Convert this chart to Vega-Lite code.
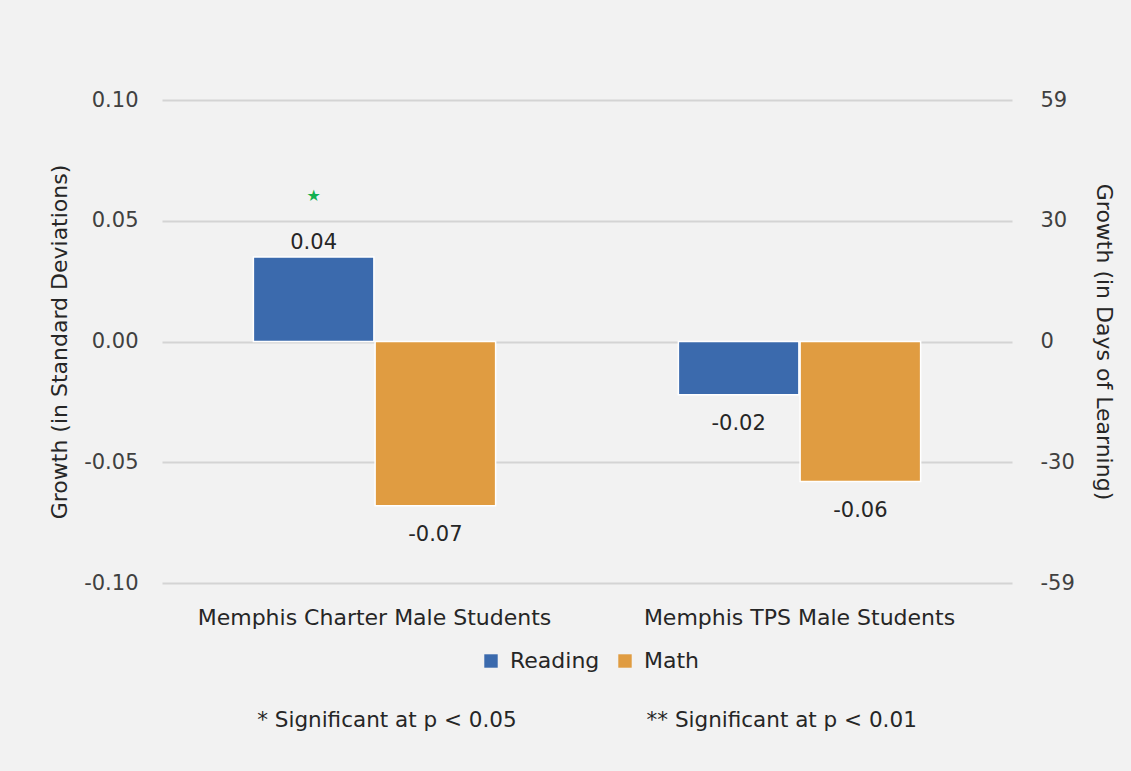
{
  "$schema": "https://vega.github.io/schema/vega-lite/v6.json",
  "width": 850,
  "height": 483,
  "autosize": {"type": "none"},
  "padding": {"left": 162, "top": 100, "right": 119, "bottom": 188},
  "background": "#f2f2f2",
  "config": {
    "view": {"stroke": null},
    "font": "DejaVu Sans",
    "axis": {"labelFont": "DejaVu Sans", "titleFont": "DejaVu Sans", "labelColor": "#404040", "titleColor": "#262626", "titleFontWeight": "normal"},
    "legend": {"labelFont": "DejaVu Sans"}
  },
  "title": {
    "text": "* Significant at p < 0.05\u00a0\u00a0\u00a0\u00a0\u00a0\u00a0\u00a0\u00a0\u00a0\u00a0\u00a0\u00a0\u00a0\u00a0\u00a0\u00a0\u00a0\u00a0\u00a0** Significant at p < 0.01",
    "orient": "bottom",
    "anchor": "middle",
    "fontSize": 21.5,
    "fontWeight": "normal",
    "color": "#262626",
    "font": "DejaVu Sans",
    "offset": 38
  },
  "data": {
    "values": [
      {"group": "Memphis Charter Male Students", "subject": "Reading", "value": 0.035, "label": "0.04", "sig": "★"},
      {"group": "Memphis Charter Male Students", "subject": "Math", "value": -0.068, "label": "-0.07", "sig": ""},
      {"group": "Memphis TPS Male Students", "subject": "Reading", "value": -0.022, "label": "-0.02", "sig": ""},
      {"group": "Memphis TPS Male Students", "subject": "Math", "value": -0.058, "label": "-0.06", "sig": ""}
    ]
  },
  "encoding": {
    "x": {
      "field": "group", "type": "nominal",
      "scale": {"paddingInner": 0.43, "paddingOuter": 0.215},
      "axis": {"orient": "bottom", "title": null, "labelAngle": 0, "labelFontSize": 22, "labelColor": "#262626", "labelPadding": 24, "labelLimit": 0, "domain": false, "ticks": false}
    },
    "xOffset": {"field": "subject", "type": "nominal", "sort": "descending", "scale": {"paddingInner": 0.01}}
  },
  "layer": [
    {
      "encoding": {
        "y": {
          "field": "value", "type": "quantitative",
          "scale": {"domain": [-0.1, 0.1], "nice": false, "zero": false},
          "axis": {
            "orient": "left",
            "title": "Growth (in Standard Deviations)", "titleFontSize": 22, "titlePadding": 12,
            "values": [-0.1, -0.05, 0, 0.05, 0.1],
            "labelExpr": "datum.value > 0.07 ? '0.10' : datum.value > 0.02 ? '0.05' : datum.value > -0.02 ? '0.00' : datum.value > -0.07 ? '-0.05' : '-0.10'",
            "labelFontSize": 21, "labelPadding": 24, "domain": false, "ticks": false,
            "grid": true, "gridColor": "#d4d4d4", "gridWidth": 2
          }
        }
      },
      "layer": [
        {
          "mark": {"type": "bar", "stroke": "white", "strokeWidth": 1.5},
          "encoding": {
            "color": {
              "field": "subject", "type": "nominal", "sort": "descending",
              "scale": {"domain": ["Reading", "Math"], "range": ["#3b6aad", "#e09c41"]},
              "legend": {
                "orient": "none", "legendX": 318, "legendY": 550, "title": null, "direction": "horizontal",
                "symbolType": "square", "symbolSize": 180, "symbolStrokeWidth": 0, "labelOffset": 8,
                "labelFontSize": 22, "labelColor": "#262626", "columnPadding": 14
              }
            }
          }
        },
        {
          "transform": [{"filter": "datum.value > 0"}],
          "mark": {"type": "text", "baseline": "bottom", "dy": -4, "fontSize": 21, "color": "#262626"},
          "encoding": {"text": {"field": "label"}}
        },
        {
          "transform": [{"filter": "datum.value < 0"}],
          "mark": {"type": "text", "baseline": "top", "dy": 18, "fontSize": 21, "color": "#262626"},
          "encoding": {"text": {"field": "label"}}
        },
        {
          "mark": {"type": "text", "baseline": "middle", "dy": -61, "fontSize": 16, "color": "#12b050"},
          "encoding": {"text": {"field": "sig"}}
        }
      ]
    },
    {
      "mark": {"type": "point", "opacity": 0},
      "encoding": {
        "y": {
          "field": "value", "type": "quantitative",
          "scale": {"domain": [-0.1, 0.1], "nice": false, "zero": false},
          "axis": {
            "orient": "right", "title": "Growth (in Days of Learning)", "titleFontSize": 22, "titlePadding": 17,
            "values": [-0.1, -0.05, 0, 0.05, 0.1],
            "labelExpr": "datum.value > 0.07 ? '59' : datum.value > 0.02 ? '30' : datum.value > -0.02 ? '0' : datum.value > -0.07 ? '-30' : '-59'",
            "labelFontSize": 21, "labelPadding": 28, "domain": false, "ticks": false, "grid": false
          }
        }
      }
    }
  ],
  "resolve": {"scale": {"y": "independent"}}
}
